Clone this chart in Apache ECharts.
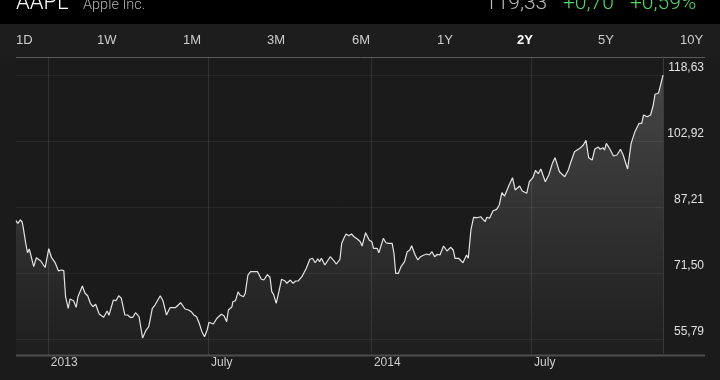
<!DOCTYPE html>
<html><head><meta charset="utf-8">
<script src="https://cdn.jsdelivr.net/npm/echarts@6/dist/echarts.min.js"></script>
<style>html,body{margin:0;padding:0;background:#1b1b1b;}#c{width:720px;height:380px;}</style>
</head><body><div id="c"></div><script>
// ---- data ----
const startDate = [2012, 10, 26];           // first trading day shown (year, monthIndex, day)
const spanDays = 731;                        // length of the 2Y window in days
const days = [0,2,5,7,8,11,13,15,17,20,23,28,31,33,37,40,42,44,46,48,51,54,56,59,61,65,68,70,75,78,81,84,87,90,94,99,103,105,107,110,113,116,119,123,126,129,132,135,139,143,147,150,154,157,163,166,167,170,174,180,186,191,195,198,201,204,207,210,213,216,218,223,227,232,235,238,240,244,245,248,251,253,257,259,262,265,273,277,280,284,287,289,291,294,297,300,304,306,310,313,316,319,323,328,332,335,338,341,343,345,349,355,359,362,366,368,371,373,376,379,382,386,389,391,395,399,402,404,408,410,412,415,418,421,423,425,427,429,432,435,439,442,445,447,451,454,457,461,464,467,470,473,476,479,483,487,491,494,496,500,505,509,511,514,517,521,525,530,532,535,537,539,543,546,549,552,557,561,564,569,572,577,580,584,587,590,593,598,602,606,609,614,620,624,627,631,637,641,644,647,651,654,658,660,663,665,667,671,675,679,683,686,691,695,699,701,704,707,709,713,717,720,722,726,731];
const prices = [83.95,83.33,84.12,83.64,82.52,78.57,76.33,77.21,76.98,73.00,75.14,74.36,73.40,72.86,77.28,75.24,75.00,74.05,74.36,71.98,72.21,72.05,65.86,63.10,65.31,64.91,63.34,65.86,68.41,66.67,66.10,64.29,63.48,64.05,61.74,60.96,62.46,61.43,61.67,65.07,64.91,66.10,65.48,61.50,61.50,60.96,60.96,62.05,61.10,56.03,57.93,58.72,63.10,63.88,66.10,64.91,65.07,61.50,63.24,63.24,64.43,62.93,62.69,62.29,61.50,61.10,59.53,57.53,56.34,57.93,59.77,59.36,60.72,61.67,61.34,59.91,62.69,63.48,64.67,64.91,67.05,66.26,65.86,66.67,71.02,71.81,71.81,70.07,69.83,71.10,70.48,67.05,66.43,64.29,67.05,70.00,69.60,69.05,69.83,69.05,69.60,69.60,70.62,72.62,74.76,75.00,73.95,74.90,74.19,75.00,73.40,75.38,74.43,73.64,74.76,78.57,80.00,80.78,80.38,80.78,80.14,79.52,78.95,77.93,81.09,79.36,78.95,77.38,77.38,76.33,76.50,79.76,78.71,78.57,78.17,78.57,76.19,71.43,71.43,73.00,74.19,76.57,76.98,78.00,75.79,74.60,75.38,75.79,76.02,75.79,76.57,75.38,75.95,75.79,77.93,76.74,77.62,76.98,75.00,75.00,73.95,75.79,75.00,81.74,84.76,84.66,84.90,83.71,84.76,84.52,84.12,86.33,86.66,87.69,90.62,89.83,92.38,94.19,91.26,92.21,91.02,90.47,93.23,94.19,95.95,95.14,96.26,93.23,94.83,97.61,98.95,95.61,94.42,96.02,97.99,100.37,101.18,101.97,103.09,98.95,98.40,101.02,101.49,100.95,101.33,100.78,102.37,101.02,99.35,99.59,100.95,99.59,96.26,102.37,104.99,105.14,107.13,107.13,109.11,108.71,109.11,111.49,114.04,114.35,118.63];
const yTicks = [55.79, 71.50, 87.21, 102.92, 118.63];
const yRange = [51.98, 122.92];
const xTickDates = [[2013,0,1],[2013,6,1],[2014,0,1],[2014,6,1]];
const xTickLabels = ['2013','July','2014','July'];
const tabs = ['1D','1W','1M','3M','6M','1Y','2Y','5Y','10Y'];
const activeTab = '2Y';
const symbolName = 'AAPL';
const companyName = 'Apple Inc.';
const lastPrice = '119,33';
const change = '+0,70';
const changePct = '+0,59%';

// ---- layout ----
const tabX = [16,97,183,267,352,437,517,598,680];
const FONT = '"Liberation Sans", Arial, sans-serif';
const THIN = 'Roboto, "Helvetica Neue", sans-serif';

const DAY = 86400000;
const t0 = new Date(startDate[0], startDate[1], startDate[2]).getTime();
const seriesData = days.map((d, i) => [t0 + d * DAY, prices[i]]);
const fmt = v => v.toFixed(2).replace('.', ',');

const yLines = yTicks.map(v => ({
  yAxis: v,
  lineStyle: {color: 'rgba(255,255,255,0.06)', type: 'solid', width: 1},
  label: {show: true, position: 'end', formatter: fmt(v), color: '#e2e2e2',
          fontSize: 12, fontFamily: FONT, align: 'right', distance: 0, offset: [41, -7]}
}));
const xLines = xTickDates.map((d, i) => ({
  xAxis: new Date(d[0], d[1], d[2]).getTime(),
  lineStyle: {color: 'rgba(255,255,255,0.09)', type: 'solid', width: 1},
  label: {show: true, position: 'start', formatter: xTickLabels[i], color: '#cfcfcf',
          fontSize: 12, fontFamily: FONT, align: 'left', verticalAlign: 'top', distance: 2, offset: [3, 0]}
}));

const graphic = [
  {type: 'rect', shape: {x: 0, y: 0, width: 720, height: 24}, style: {fill: '#000'}, silent: true},
  {type: 'rect', shape: {x: 0, y: 24, width: 720, height: 33}, style: {fill: '#1d1d1d'}, silent: true, z: -1},
  {type: 'line', shape: {x1: 16, y1: 57.5, x2: 705, y2: 57.5}, style: {stroke: '#5a5a5a', lineWidth: 1}, silent: true},
  {type: 'line', shape: {x1: 16, y1: 355.5, x2: 705, y2: 355.5}, style: {stroke: '#4e4e4e', lineWidth: 2}, silent: true},
  {type: 'text', x: 16, y: 3.4, style: {text: symbolName, fill: '#fff', font: '300 22px ' + THIN, verticalAlign: 'middle'}},
  {type: 'text', x: 83, y: 5.6, style: {text: companyName, fill: '#b0b0b0', font: '300 14.5px ' + THIN, verticalAlign: 'middle'}},
  {type: 'text', x: 485, y: 3.6, style: {text: lastPrice, fill: '#b8b8b8', font: '300 21px ' + THIN, verticalAlign: 'middle'}},
  {type: 'text', x: 563, y: 3.6, style: {text: change, fill: '#4cd964', font: '300 21px ' + THIN, verticalAlign: 'middle'}},
  {type: 'text', x: 630, y: 3.6, style: {text: changePct, fill: '#4cd964', font: '300 21px ' + THIN, verticalAlign: 'middle'}}
];
tabs.forEach((t, i) => {
  const active = t === activeTab;
  graphic.push({type: 'text', x: tabX[i], y: 40.5, style: {text: t, fill: active ? '#fff' : '#cdcdcd',
    font: (active ? 'bold ' : '') + '13px ' + FONT, verticalAlign: 'middle'}});
});

const chart = echarts.init(document.getElementById('c'));
chart.setOption({
  backgroundColor: '#1b1b1b',
  animation: false,
  grid: {left: 16, right: 57, top: 57, bottom: 25},
  xAxis: {type: 'time', min: t0, max: t0 + spanDays * DAY,
    axisLine: {show: false}, axisTick: {show: false}, axisLabel: {show: false}, splitLine: {show: false}},
  yAxis: {type: 'value', position: 'right', min: yRange[0], max: yRange[1],
    axisLine: {show: true, onZero: false, lineStyle: {color: '#3a3a3a', width: 1}},
    axisTick: {show: false}, axisLabel: {show: false}, splitLine: {show: false}},
  series: [{
    type: 'line', data: seriesData, symbol: 'none', showSymbol: false,
    lineStyle: {color: '#e4e4e4', width: 1.2},
    areaStyle: {color: new echarts.graphic.LinearGradient(0, 0, 0, 1, [
      {offset: 0, color: 'rgba(255,255,255,0.27)'},
      {offset: 1, color: 'rgba(255,255,255,0.02)'}])},
    markLine: {silent: true, symbol: 'none', animation: false, data: yLines.concat(xLines)}
  }],
  graphic: graphic
});
</script></body></html>
